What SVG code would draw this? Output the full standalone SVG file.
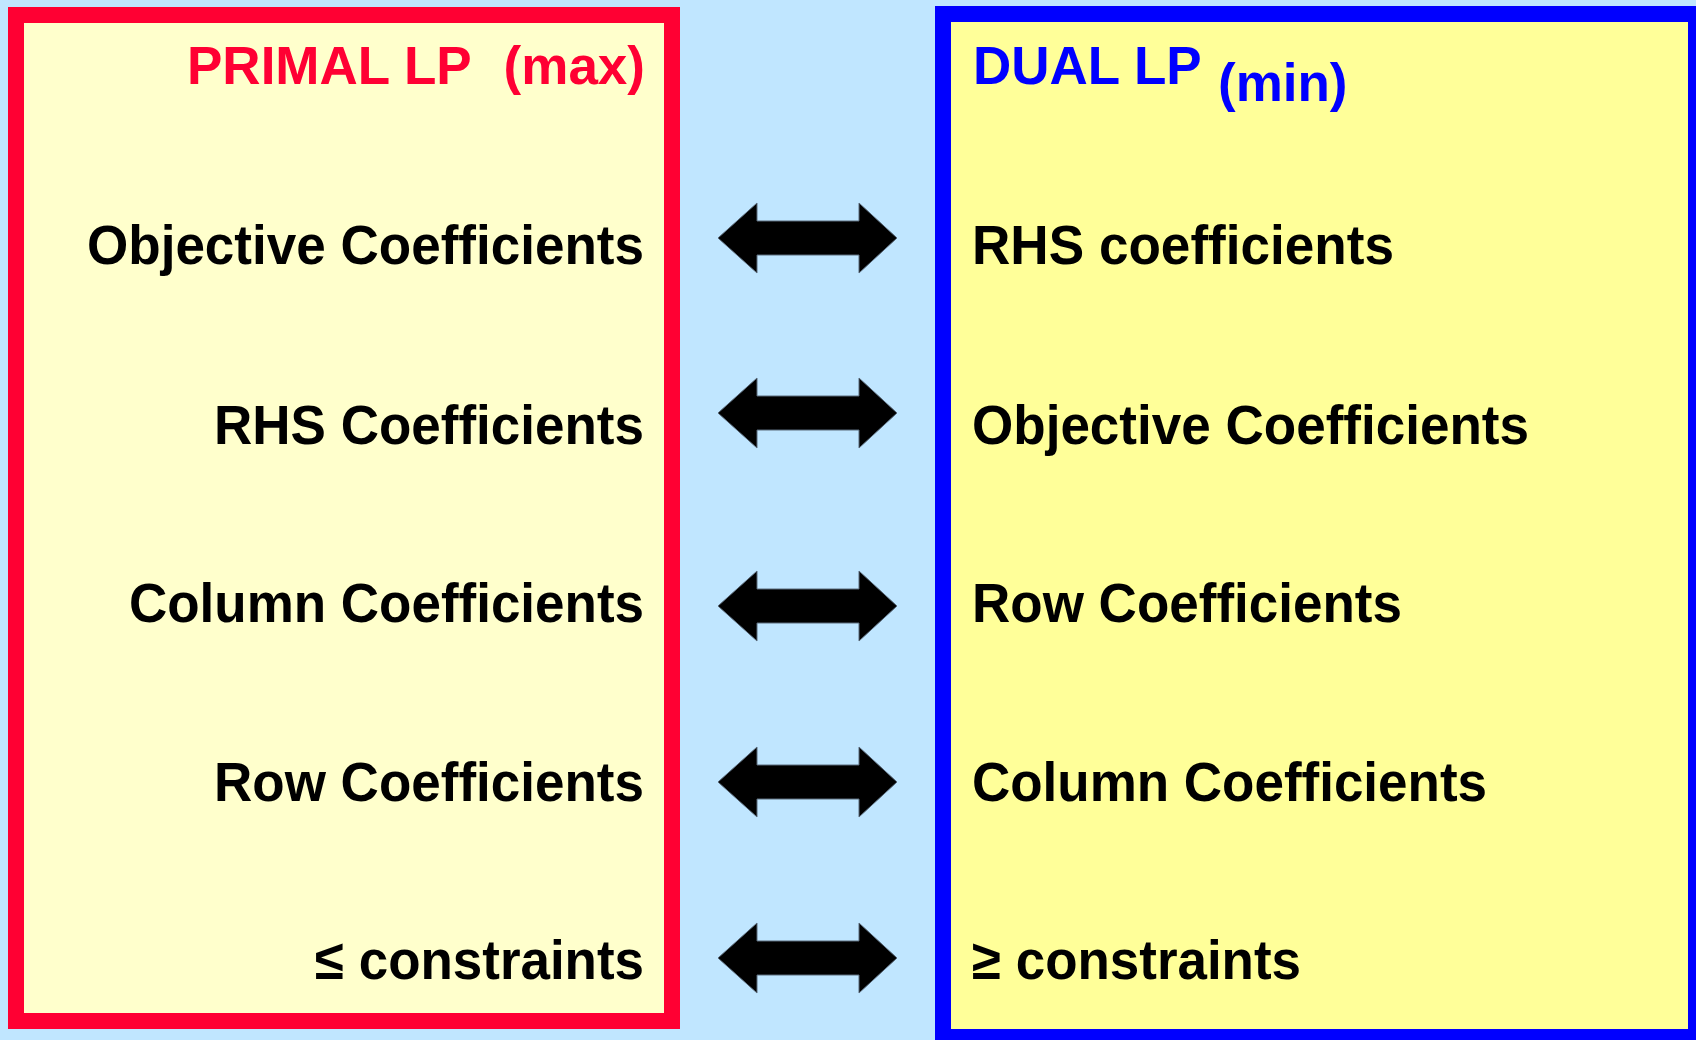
<svg xmlns="http://www.w3.org/2000/svg" width="1696" height="1040" viewBox="0 0 1696 1040">
<style>
.lbl{font-family:"Liberation Sans",Arial,sans-serif;font-weight:bold;font-size:56px;fill:#000}
.l{text-anchor:end}
.ttl{font-family:"Liberation Sans",Arial,sans-serif;font-weight:bold;font-size:53px}
.arr{fill:#000;stroke:#5a6a7a;stroke-width:1}
</style>
<defs>
<polygon id="dbl" points="718,0 757,-35 757,-17 859,-17 859,-35 897,0 859,35 859,17 757,17 757,35"/>
</defs>
<rect x="0" y="0" width="1696" height="1040" fill="#C0E6FF"/>
<g id="primal">
<rect x="16" y="15" width="656" height="1006" fill="#FFFFCC" stroke="#FF0033" stroke-width="16"/>
<text class="ttl" x="187" y="84" fill="#FF0033">PRIMAL LP</text>
<text class="ttl" x="645" y="84" fill="#FF0033" text-anchor="end">(max)</text>
<text class="lbl l" x="644" y="264" textLength="557" lengthAdjust="spacingAndGlyphs">Objective Coefficients</text>
<text class="lbl l" x="644" y="444" textLength="430" lengthAdjust="spacingAndGlyphs">RHS Coefficients</text>
<text class="lbl l" x="644" y="622" textLength="515" lengthAdjust="spacingAndGlyphs">Column Coefficients</text>
<text class="lbl l" x="644" y="801" textLength="430" lengthAdjust="spacingAndGlyphs">Row Coefficients</text>
<text class="lbl l" x="644" y="979" textLength="329" lengthAdjust="spacingAndGlyphs">≤ constraints</text>
</g>
<g id="dual">
<rect x="943" y="14" width="753" height="1023" fill="#FFFF99" stroke="#0000FF" stroke-width="16"/>
<text class="ttl" x="973" y="84" fill="#0000FF">DUAL LP</text>
<text class="ttl" x="1218" y="101" fill="#0000FF">(min)</text>
<text class="lbl" x="972" y="264" textLength="422" lengthAdjust="spacingAndGlyphs">RHS coefficients</text>
<text class="lbl" x="972" y="444" textLength="557" lengthAdjust="spacingAndGlyphs">Objective Coefficients</text>
<text class="lbl" x="972" y="622" textLength="430" lengthAdjust="spacingAndGlyphs">Row Coefficients</text>
<text class="lbl" x="972" y="801" textLength="515" lengthAdjust="spacingAndGlyphs">Column Coefficients</text>
<text class="lbl" x="972" y="979" textLength="329" lengthAdjust="spacingAndGlyphs">≥ constraints</text>
</g>
<g id="connectors">
<use href="#dbl" class="arr" transform="translate(0,238)"/>
<use href="#dbl" class="arr" transform="translate(0,413)"/>
<use href="#dbl" class="arr" transform="translate(0,606)"/>
<use href="#dbl" class="arr" transform="translate(0,782)"/>
<use href="#dbl" class="arr" transform="translate(0,958)"/>
</g>
</svg>
